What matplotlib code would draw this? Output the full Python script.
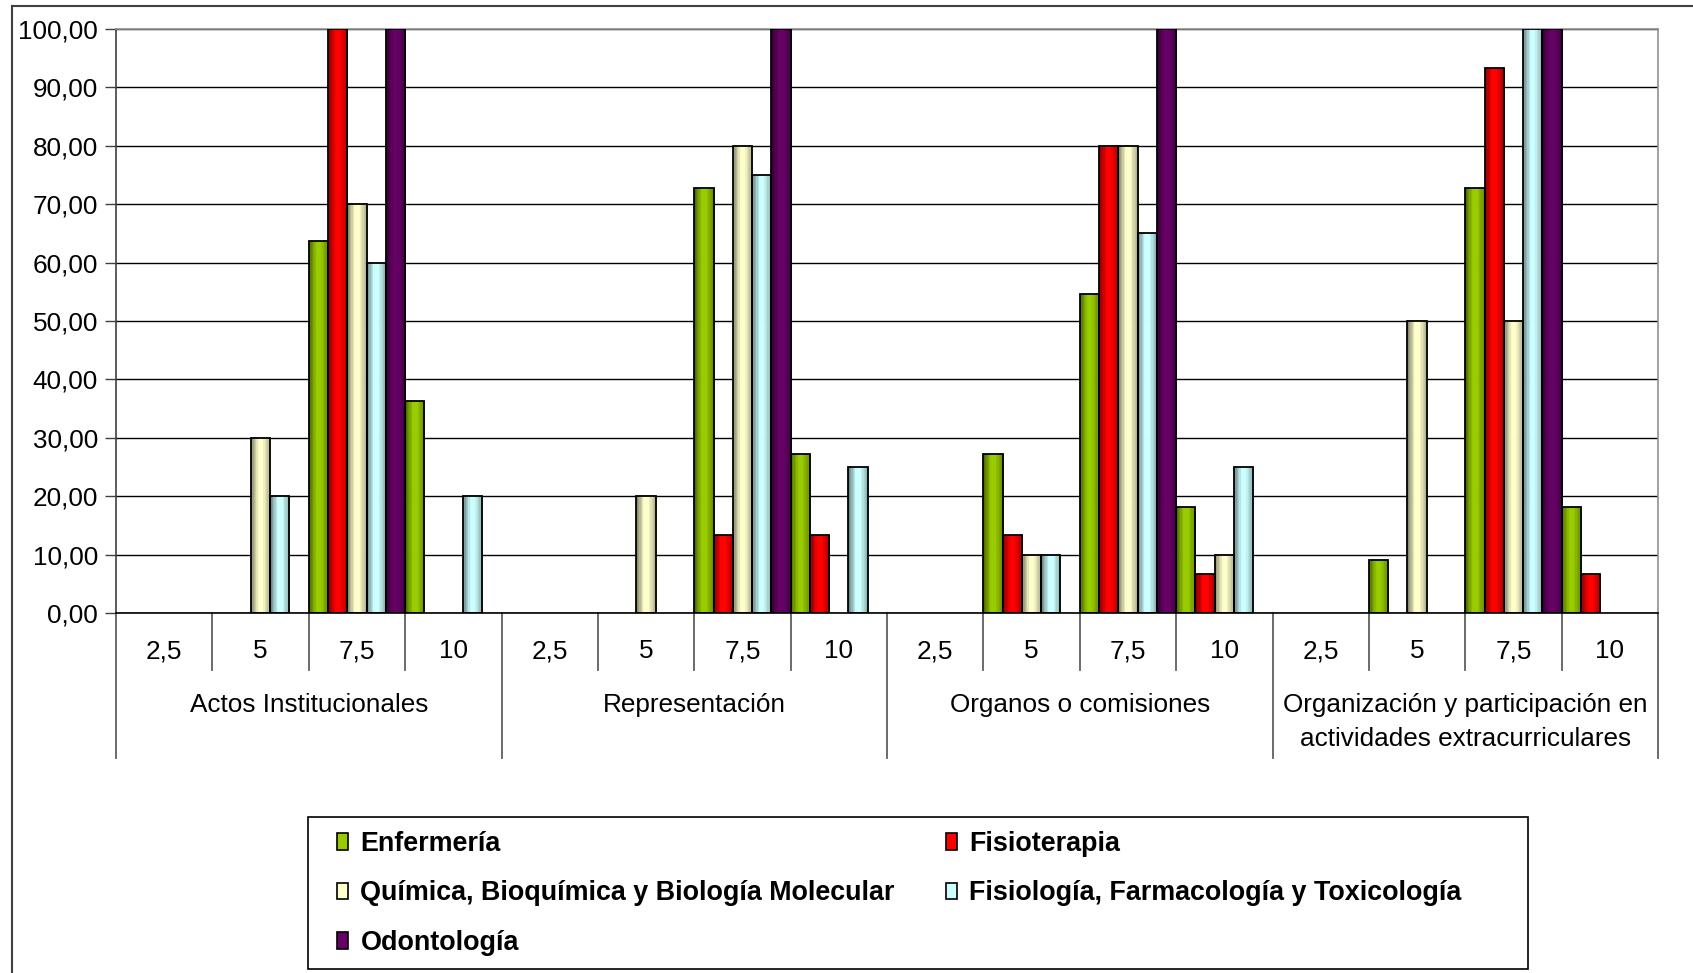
import numpy as np
import matplotlib
matplotlib.use('Agg')
import matplotlib.pyplot as plt
from matplotlib.patches import Patch, Rectangle
from matplotlib.lines import Line2D
from matplotlib.colors import to_rgb

plt.rcParams['font.family'] = ['Liberation Sans', 'DejaVu Sans']

groups = ['Actos Institucionales', 'Representación', 'Organos o comisiones',
          'Organización y participación en\nactividades extracurriculares']
subcats = ['2,5', '5', '7,5', '10']

series = ['Enfermería', 'Fisioterapia', 'Química, Bioquímica y Biología Molecular',
          'Fisiología, Farmacología y Toxicología', 'Odontología']
colors = ['#99CC00', '#FF0000', '#FFFFCC', '#CCFFFF', '#660066']

enfermeria = [0, 0, 63.64, 36.36, 0, 0, 72.73, 27.27, 0, 27.27, 54.55, 18.18, 0, 9.09, 72.73, 18.18]
fisioterapia = [0, 0, 100, 0, 0, 0, 13.33, 13.33, 0, 13.33, 80, 6.67, 0, 0, 93.33, 6.67]
quimica = [0, 30, 70, 0, 0, 20, 80, 0, 0, 10, 80, 10, 0, 50, 50, 0]
fisiologia = [0, 20, 60, 20, 0, 0, 75, 25, 0, 10, 65, 25, 0, 0, 100, 0]
odontologia = [0, 0, 100, 0, 0, 0, 100, 0, 0, 0, 100, 0, 0, 0, 100, 0]
values = [enfermeria, fisioterapia, quimica, fisiologia, odontologia]

W, H = 1693, 973
fig = plt.figure(figsize=(W / 100, H / 100), dpi=100)
ax = fig.add_axes([116 / W, 1 - 613 / H, (1658 - 116) / W, (613 - 29) / H])

# horizontal shading like old office bars, drawn as thin strips
nstrip = 14
prof = np.interp((np.arange(nstrip) + 0.5) / nstrip, [0, 0.4, 0.6, 1], [0.5, 1.0, 1.0, 0.68])

ncat = len(groups) * len(subcats)
x = np.arange(ncat)
bw = 1.0 / len(series)
sw = bw / nstrip
for i, (vals, c) in enumerate(zip(values, colors)):
    xs = x - 0.5 + bw * (i + 0.5)
    base = np.array(to_rgb(c))
    v = np.array(vals, dtype=float)
    m = v > 0
    for j in range(nstrip):
        sc = tuple(base * prof[j])
        ax.bar(xs[m] - bw / 2 + (j + 0.5) * sw, v[m], width=sw, color=sc, edgecolor=sc,
               linewidth=0.6, zorder=3)
    ax.bar(xs[m], v[m], width=bw, fill=False, edgecolor='black', linewidth=1.3, zorder=4)

ax.set_xlim(-0.5, ncat - 0.5)
ax.set_ylim(0, 100)
yt = np.arange(0, 101, 10)
ax.set_yticks(yt)
ax.set_yticklabels([('%.2f' % t).replace('.', ',') for t in yt])
ax.yaxis.set_tick_params(length=8, width=1, direction='out', pad=5, labelsize=18.8, color='#404040')
ax.grid(axis='y', color='black', linewidth=1)
ax.set_axisbelow(True)
ax.spines['top'].set_color('#909090')
ax.spines['right'].set_color('#909090')
ax.spines['left'].set_color('#404040')
ax.spines['bottom'].set_color('black')
for s in ax.spines.values():
    s.set_linewidth(1.2)
ax.spines['bottom'].set_zorder(5)

ax.set_xticks(x)
ax.set_xticklabels(subcats * len(groups))
ax.xaxis.set_tick_params(length=0, pad=19, labelsize=18.8)

# category separators below the axis
tr = ax.get_xaxis_transform()
for k in range(ncat + 1):
    if k % len(subcats) == 0:
        y0 = -(758 - 613) / (613 - 29)
    else:
        y0 = -(670 - 613) / (613 - 29)
    ax.plot([k - 0.5, k - 0.5], [0, y0], transform=tr, color='#606060', lw=1.3, clip_on=False)

for g, name in enumerate(groups):
    xc = g * len(subcats) + (len(subcats) - 1) / 2
    ax.text(xc, -(693 - 613) / (613 - 29), name, transform=tr, ha='center', va='top',
            fontsize=18.8, linespacing=1.55)

# outer frame of the chart
fig.add_artist(Line2D([12 / W, 12 / W], [0, 1 - 6 / H], color='#404040', lw=1.5))
fig.add_artist(Line2D([12 / W, 1], [1 - 6 / H, 1 - 6 / H], color='#404040', lw=1.5))

# legend box
fig.add_artist(Rectangle((308 / W, 1 - 969 / H), (1528 - 308) / W, (969 - 817) / H,
                         transform=fig.transFigure, fill=False, edgecolor='black', lw=1.2))
handles = [Patch(facecolor=c, edgecolor='black', linewidth=1.2) for c in colors]
order = [0, 2, 4, 1, 3]
leg = fig.legend([handles[i] for i in order], [series[i] for i in order], ncol=2,
                 loc='upper left', bbox_to_anchor=(337 / W, 1 - 831 / H),
                 frameon=False, borderaxespad=0, borderpad=0,
                 prop={'weight': 'bold', 'size': 19.4}, handlelength=0.42, handleheight=0.56,
                 handletextpad=0.45, labelspacing=0.87, columnspacing=1.9)

fig.savefig('out.png', dpi=100)
